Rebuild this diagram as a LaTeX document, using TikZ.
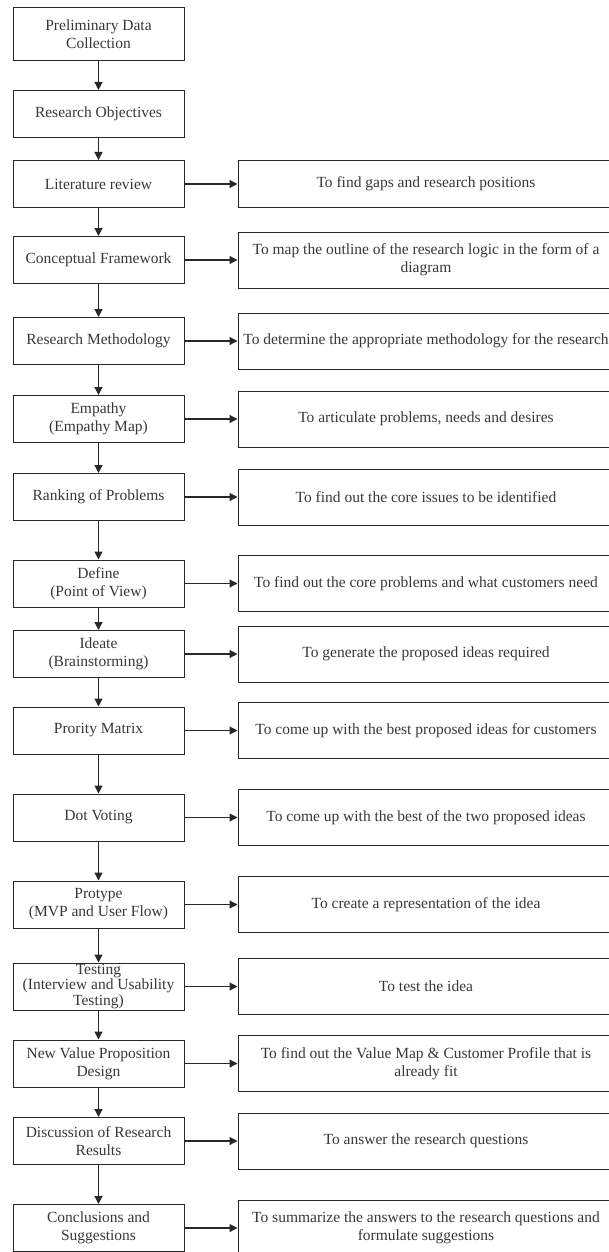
\documentclass[tikz,border=0pt]{standalone}
\usepackage{xcolor}
\usepackage{fontspec}
\setmainfont{Liberation Serif}
\usepackage{tikz}
\usetikzlibrary{arrows.meta,positioning}
\definecolor{boxline}{RGB}{40,40,40}
\definecolor{txtgray}{RGB}{55,55,55}
\tikzstyle{arrow}=[-{Triangle[length=8pt,width=8pt]},line width=1.2pt,draw=boxline]
\tikzstyle{stepbox}=[rectangle,draw=boxline,line width=1pt,minimum width=171pt,
                  minimum height=47pt,inner sep=0pt,align=center,text=txtgray,
                  font=\fontsize{15.5}{18}\selectfont]
\tikzstyle{aimbox}=[stepbox,minimum width=376pt,minimum height=56pt]

\begin{document}
\begin{tikzpicture}[x=1pt,y=1pt,node distance=53pt]
      \path[use as bounding box,clip] (0,0) rectangle (609,-1252);

      \node[stepbox,minimum height=53pt] (s1) at (98.5,-34.5) {Preliminary Data\\Collection};
      \node[stepbox] (s2) at (98.5,-114) {Research Objectives};
      \node[stepbox] (s3) at (98.5,-184) {Literature review};
      \node[stepbox] (s4) at (98.5,-260) {Conceptual Framework};
      \node[stepbox] (s5) at (98.5,-341) {Research Methodology};
      \node[stepbox] (s6) at (98.5,-419) {Empathy\\(Empathy Map)};
      \node[stepbox] (s7) at (98.5,-497) {Ranking of Problems};
      \node[stepbox] (s8) at (98.5,-583.5) {Define\\(Point of View)};
      \node[stepbox] (s9) at (98.5,-654) {Ideate\\(Brainstorming)};
      \node[stepbox] (s10) at (98.5,-730.5) {Prority Matrix};
      \node[stepbox] (s11) at (98.5,-817.5) {Dot Voting};
      \node[stepbox] (s12) at (98.5,-904.5) {Protype\\(MVP and User Flow)};
      \node[stepbox,font=\fontsize{15.5}{15.5}\selectfont] (s13) at (98.5,-986.5) {Testing\\(Interview and Usability\\Testing)};
      \node[stepbox] (s14) at (98.5,-1063.5) {New Value Proposition\\Design};
      \node[stepbox] (s15) at (98.5,-1141) {Discussion of Research\\Results};
      \node[stepbox] (s16) at (98.5,-1228) {Conclusions and\\Suggestions};

      \node[aimbox,minimum height=47pt,right=of s3] (a3) {To find gaps and research positions};
      \node[aimbox,right=of s4] (a4) {To map the outline of the research logic in the form of a\\diagram};
      \node[aimbox,right=of s5] (a5) {To determine the appropriate methodology for the research};
      \node[aimbox,right=of s6] (a6) {To articulate problems, needs and desires};
      \node[aimbox,right=of s7] (a7) {To find out the core issues to be identified};
      \node[aimbox,right=of s8] (a8) {To find out the core problems and what customers need};
      \node[aimbox,right=of s9] (a9) {To generate the proposed ideas required};
      \node[aimbox,right=of s10] (a10) {To come up with the best proposed ideas for customers};
      \node[aimbox,right=of s11] (a11) {To come up with the best of the two proposed ideas};
      \node[aimbox,right=of s12] (a12) {To create a representation of the idea};
      \node[aimbox,right=of s13] (a13) {To test the idea};
      \node[aimbox,right=of s14] (a14) {To find out the Value Map \& Customer Profile that is\\already fit};
      \node[aimbox,right=of s15] (a15) {To answer the research questions};
      \node[aimbox,right=of s16] (a16) {To summarize the answers to the research questions and\\formulate suggestions};

      \draw[arrow] (s1)--(s2);
      \draw[arrow] (s2)--(s3);
      \draw[arrow] (s3)--(s4);
      \draw[arrow] (s4)--(s5);
      \draw[arrow] (s5)--(s6);
      \draw[arrow] (s6)--(s7);
      \draw[arrow] (s7)--(s8);
      \draw[arrow] (s8)--(s9);
      \draw[arrow] (s9)--(s10);
      \draw[arrow] (s10)--(s11);
      \draw[arrow] (s11)--(s12);
      \draw[arrow] (s12)--(s13);
      \draw[arrow] (s13)--(s14);
      \draw[arrow] (s14)--(s15);
      \draw[arrow] (s15)--(s16);

      \draw[arrow] (s3)--(a3);
      \draw[arrow] (s4)--(a4);
      \draw[arrow] (s5)--(a5);
      \draw[arrow] (s6)--(a6);
      \draw[arrow] (s7)--(a7);
      \draw[arrow] (s8)--(a8);
      \draw[arrow] (s9)--(a9);
      \draw[arrow] (s10)--(a10);
      \draw[arrow] (s11)--(a11);
      \draw[arrow] (s12)--(a12);
      \draw[arrow] (s13)--(a13);
      \draw[arrow] (s14)--(a14);
      \draw[arrow] (s15)--(a15);
      \draw[arrow] (s16)--(a16);
    \end{tikzpicture}
\end{document}
